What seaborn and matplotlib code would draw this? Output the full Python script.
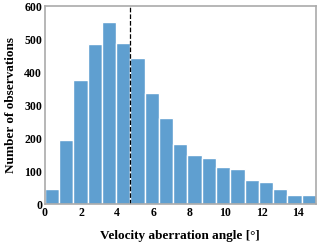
import numpy as np
import pandas as pd
import matplotlib.pyplot as plt
import seaborn as sns

# ── data ──────────────────────────────────────────────────────────────────────
bin_edges = np.linspace(0, 15, 20)          # 19 bins over 0–15°
counts = [45, 193, 377, 486, 553, 489, 442, 338, 261, 182,
          148, 140, 111, 105, 73, 67, 45, 27, 27]
mean_angle = 4.72
x_ticks = [0, 2, 4, 6, 8, 10, 12, 14]
y_ticks = [0, 100, 200, 300, 400, 500, 600]

df = pd.DataFrame({
    "angle": (bin_edges[:-1] + bin_edges[1:]) / 2,
    "count": counts,
})

sns.set_theme(style="white")
plt.rcParams["font.family"] = ["Liberation Serif", "DejaVu Serif"]
plt.rcParams["font.weight"] = "bold"
plt.rcParams["text.color"] = "black"
plt.rcParams["xtick.color"] = "black"
plt.rcParams["ytick.color"] = "black"
plt.rcParams["axes.labelcolor"] = "black"

fig = plt.figure(figsize=(3.2, 2.45), dpi=100)
ax = fig.add_axes([0.14, 0.167, 0.847, 0.808])

sns.histplot(data=df, x="angle", weights="count", bins=list(bin_edges), ax=ax,
             color="#5f9fd0", alpha=1, edgecolor="white", linewidth=1.0)
ax.axvline(mean_angle, color="black", linestyle="--", linewidth=0.9)

ax.set_xlim(0, 15)
ax.set_ylim(0, 600)
ax.set_xticks(x_ticks)
ax.set_yticks(y_ticks)
ax.tick_params(labelsize=8.5, length=0, pad=2)
for lab in ax.get_xticklabels() + ax.get_yticklabels():
    lab.set_fontweight("bold")
ax.set_xlabel("Velocity aberration angle [°]", fontsize=9.5, fontweight="bold", labelpad=8)
ax.set_ylabel("Number of observations", fontsize=9.5, fontweight="bold", labelpad=5)
for s in ax.spines.values():
    s.set_color("#aaaaaa")
    s.set_linewidth(1.2)

fig.savefig("out.png", dpi=100)
